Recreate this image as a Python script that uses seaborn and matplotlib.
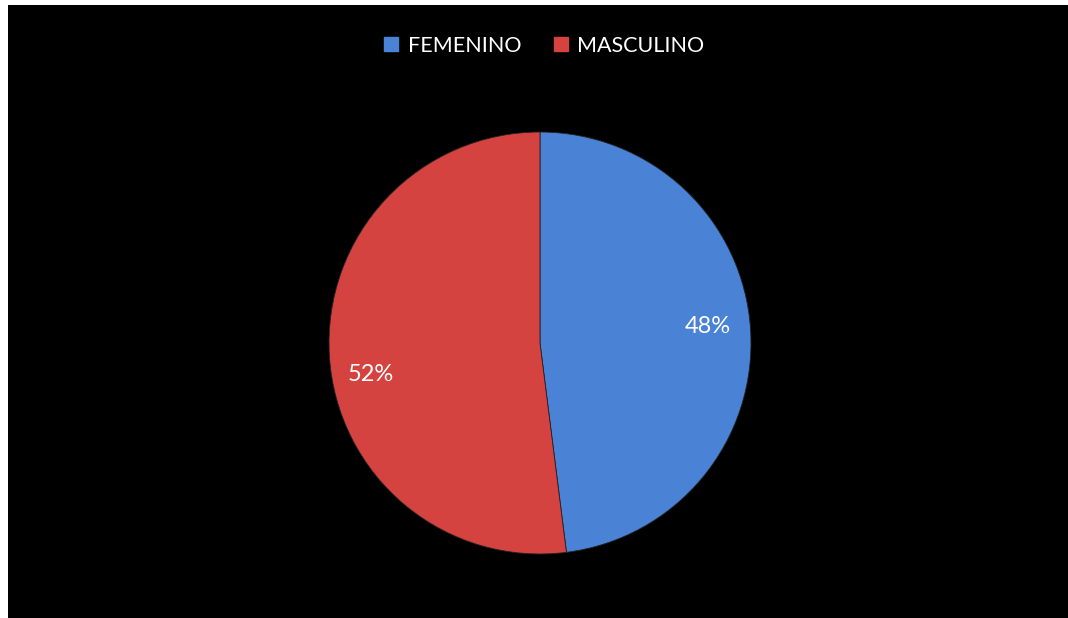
import matplotlib
matplotlib.use("Agg")
import matplotlib.pyplot as plt
from matplotlib.lines import Line2D
import seaborn as sns

# Distribución por sexo
categories = ["FEMENINO", "MASCULINO"]
percentages = [48, 52]
colors = ["#4a82d6", "#d4433f"]

sns.set_theme(style="dark")
plt.rcParams["font.family"] = ["Lato", "DejaVu Sans"]

W, H, DPI = 1068, 618, 100
fig = plt.figure(figsize=(W / DPI, H / DPI), dpi=DPI, facecolor="white")

# black chart area
bg = fig.add_axes([8 / W, 0, 1 - 8 / W, (H - 5) / H])
bg.set_facecolor("black")
bg.set_xticks([])
bg.set_yticks([])
for s in bg.spines.values():
    s.set_visible(False)

# pie area
cx, cy, r = 540, 343, 211
ax = fig.add_axes([(cx - r) / W, (H - cy - r) / H, 2 * r / W, 2 * r / H])
ax.set_facecolor("none")
wedges, texts, autotexts = ax.pie(
    percentages,
    colors=colors,
    startangle=90,
    counterclock=False,
    radius=1,
    autopct=lambda p: f"{p:.0f}%",
    pctdistance=0.8,
    wedgeprops=dict(edgecolor="#222222", linewidth=0.6),
    textprops=dict(color="white", fontsize=17),
)
label_pos = [(0.795, 0.08), (-0.80, -0.148)]
for t, pos in zip(autotexts, label_pos):
    t.set_position(pos)
    t.set_ha("center")
    t.set_va("center")
ax.set_xlim(-1, 1)
ax.set_ylim(-1, 1)
ax.set_aspect("auto")
ax.axis("off")

handles = [
    Line2D([], [], marker="s", linestyle="none", markersize=9.5,
           markerfacecolor=c, markeredgecolor=c)
    for c in colors
]
leg = fig.legend(
    handles, categories, loc="center", bbox_to_anchor=(543 / W, 1 - 46 / H),
    ncol=2, frameon=False, fontsize=15.5, handletextpad=0.3,
    columnspacing=1.4, handlelength=0.9,
)
for t in leg.get_texts():
    t.set_color("white")

fig.savefig("out.png", dpi=DPI, facecolor=fig.get_facecolor())
